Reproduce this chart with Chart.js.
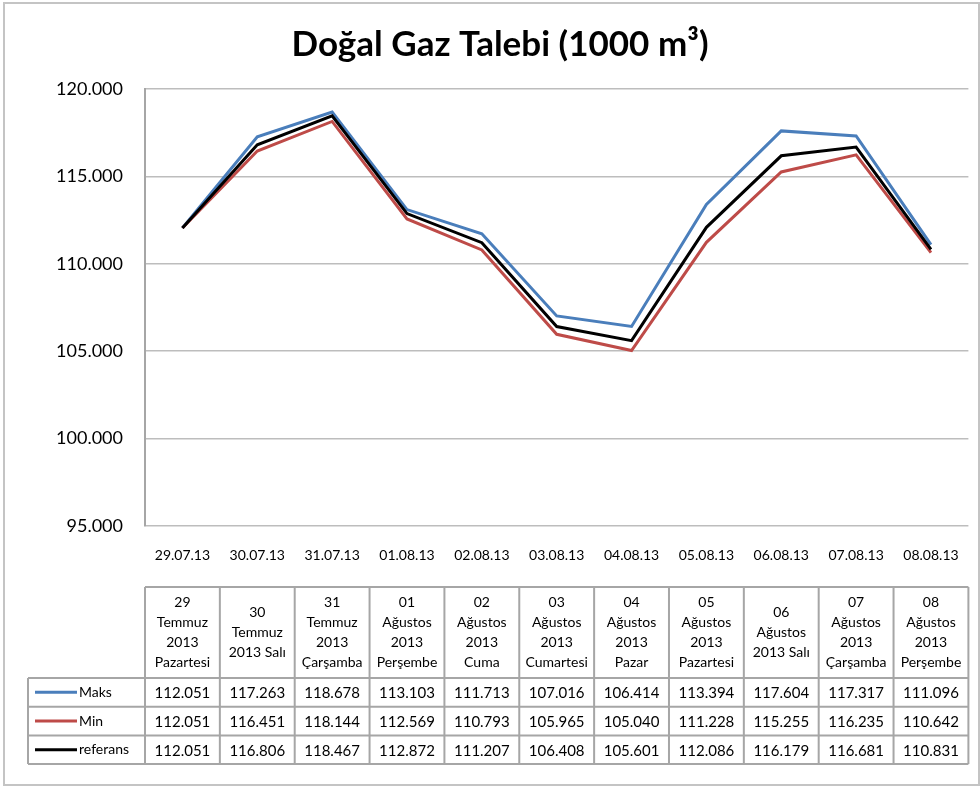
<!DOCTYPE html>
<html>
<head>
<meta charset="utf-8">
<script src="https://cdn.jsdelivr.net/npm/chart.js@4/dist/chart.umd.min.js"></script>
<style>
  html, body { margin: 0; padding: 0; background: #fff; }
  #wrap { width: 980px; height: 787px; position: relative; }
</style>
</head>
<body>
<div id="wrap"><canvas id="gazChart" width="980" height="787"></canvas></div>
<script>
// Dados
const kategoriler = ["29.07.13", "30.07.13", "31.07.13", "01.08.13", "02.08.13", "03.08.13",
  "04.08.13", "05.08.13", "06.08.13", "07.08.13", "08.08.13"];
const tabloBasliklari = [
  "29\nTemmuz\n2013\nPazartesi", "30\nTemmuz\n2013 Salı", "31\nTemmuz\n2013\nÇarşamba",
  "01\nAğustos\n2013\nPerşembe", "02\nAğustos\n2013\nCuma", "03\nAğustos\n2013\nCumartesi",
  "04\nAğustos\n2013\nPazar", "05\nAğustos\n2013\nPazartesi", "06\nAğustos\n2013 Salı",
  "07\nAğustos\n2013\nÇarşamba", "08\nAğustos\n2013\nPerşembe"
];
const maks = [112051, 117263, 118678, 113103, 111713, 107016, 106414, 113394, 117604, 117317, 111096];
const min = [112051, 116451, 118144, 112569, 110793, 105965, 105040, 111228, 115255, 116235, 110642];
const referans = [112051, 116806, 118467, 112872, 111207, 106408, 105601, 112086, 116179, 116681, 110831];
const yTicks = [95000, 100000, 105000, 110000, 115000, 120000];

const fmt = (v) => v.toLocaleString("de-DE");
const FONT = "Lato, 'Open Sans', sans-serif";

// Tablo + başlık + çerçeve
const tabloPlugin = {
  id: "tablo",
  afterDraw(chart) {
    const ctx = chart.ctx;
    const area = chart.chartArea;
    const n = kategoriler.length;
    const colW = (area.right - area.left) / n;
    const headTop = 587, headBottom = 678, rowH = 28.7;
    const legLeft = 28;
    const series = chart.data.datasets;

    ctx.save();
    // çerçeve
    ctx.strokeStyle = "#c4c4c4";
    ctx.lineWidth = 2;
    ctx.strokeRect(4, 3, 975, 782);

    // başlık
    ctx.fillStyle = "#000";
    ctx.font = "bold 35px " + FONT;
    ctx.textAlign = "center";
    ctx.textBaseline = "middle";
    ctx.fillText("Doğal Gaz Talebi (1000 m³)", 500, 45);

    // tablo çizgileri
    ctx.strokeStyle = "#a6a6a6";
    ctx.lineWidth = 2;
    const bottom = headBottom + rowH * series.length;
    ctx.beginPath();
    ctx.moveTo(area.left, headTop); ctx.lineTo(area.right, headTop);
    for (let r = 0; r <= series.length; r++) {
      const y = headBottom + r * rowH;
      ctx.moveTo(legLeft, y); ctx.lineTo(area.right, y);
    }
    for (let i = 0; i <= n; i++) {
      const x = area.left + i * colW;
      ctx.moveTo(x, headTop); ctx.lineTo(x, bottom);
    }
    ctx.moveTo(legLeft, headBottom); ctx.lineTo(legLeft, bottom);
    ctx.stroke();

    // başlık hücreleri
    ctx.fillStyle = "#000";
    ctx.font = "14px " + FONT;
    const lh = 20;
    tabloBasliklari.forEach((t, i) => {
      const lines = t.split("\n");
      const cx = area.left + (i + 0.5) * colW;
      const cy = (headTop + headBottom) / 2;
      lines.forEach((l, k) => {
        ctx.fillText(l, cx, cy + (k - (lines.length - 1) / 2) * lh);
      });
    });

    // satırlar
    series.forEach((ds, r) => {
      const cy = headBottom + (r + 0.5) * rowH;
      ctx.strokeStyle = ds.borderColor;
      ctx.lineWidth = 3;
      ctx.beginPath();
      ctx.moveTo(35, cy); ctx.lineTo(77, cy);
      ctx.stroke();
      ctx.fillStyle = "#000";
      ctx.font = "14px " + FONT;
      ctx.textAlign = "left";
      ctx.fillText(ds.label, 79, cy);
      ctx.font = "15px " + FONT;
      ctx.textAlign = "center";
      ds.data.forEach((v, i) => {
        ctx.fillText(fmt(v), area.left + (i + 0.5) * colW, cy + 1);
      });
    });
    ctx.restore();
  }
};

const ctx = document.getElementById("gazChart").getContext("2d");

new Chart(ctx, {
  type: "line",
  data: {
    labels: kategoriler,
    datasets: [
      { label: "Maks", data: maks, borderColor: "#4A7EBB", borderWidth: 3, pointRadius: 0, tension: 0, fill: false, order: 3 },
      { label: "Min", data: min, borderColor: "#BE4B48", borderWidth: 3, pointRadius: 0, tension: 0, fill: false, order: 2 },
      { label: "referans", data: referans, borderColor: "#000000", borderWidth: 3, pointRadius: 0, tension: 0, fill: false, order: 1 },
    ],
  },
  options: {
    responsive: false,
    animation: false,
    layout: { padding: { left: 0, right: 8, top: 89, bottom: 0 } },
    plugins: {
      legend: { display: false },
      tooltip: { enabled: false },
      title: { display: false },
    },
    scales: {
      x: {
        offset: true,
        grid: { display: false, drawTicks: false },
        border: { display: false },
        ticks: { color: "#000", font: { family: FONT, size: 14 }, padding: 21, maxRotation: 0, autoSkip: false },
        afterFit: (s) => { s.height = 261; },
      },
      y: {
        min: 95000,
        max: 120000,
        afterBuildTicks: (s) => { s.ticks = yTicks.map((v) => ({ value: v })); },
        grid: { color: "#bdbdbd", lineWidth: 1.5, drawTicks: false },
        border: { display: true, color: "#a6a6a6", width: 2 },
        ticks: { color: "#000", font: { family: FONT, size: 18 }, padding: 22, callback: (v) => fmt(v) },
        afterFit: (s) => { s.width = 145; },
      },
    },
  },
  plugins: [tabloPlugin],
});
</script>
</body>
</html>
